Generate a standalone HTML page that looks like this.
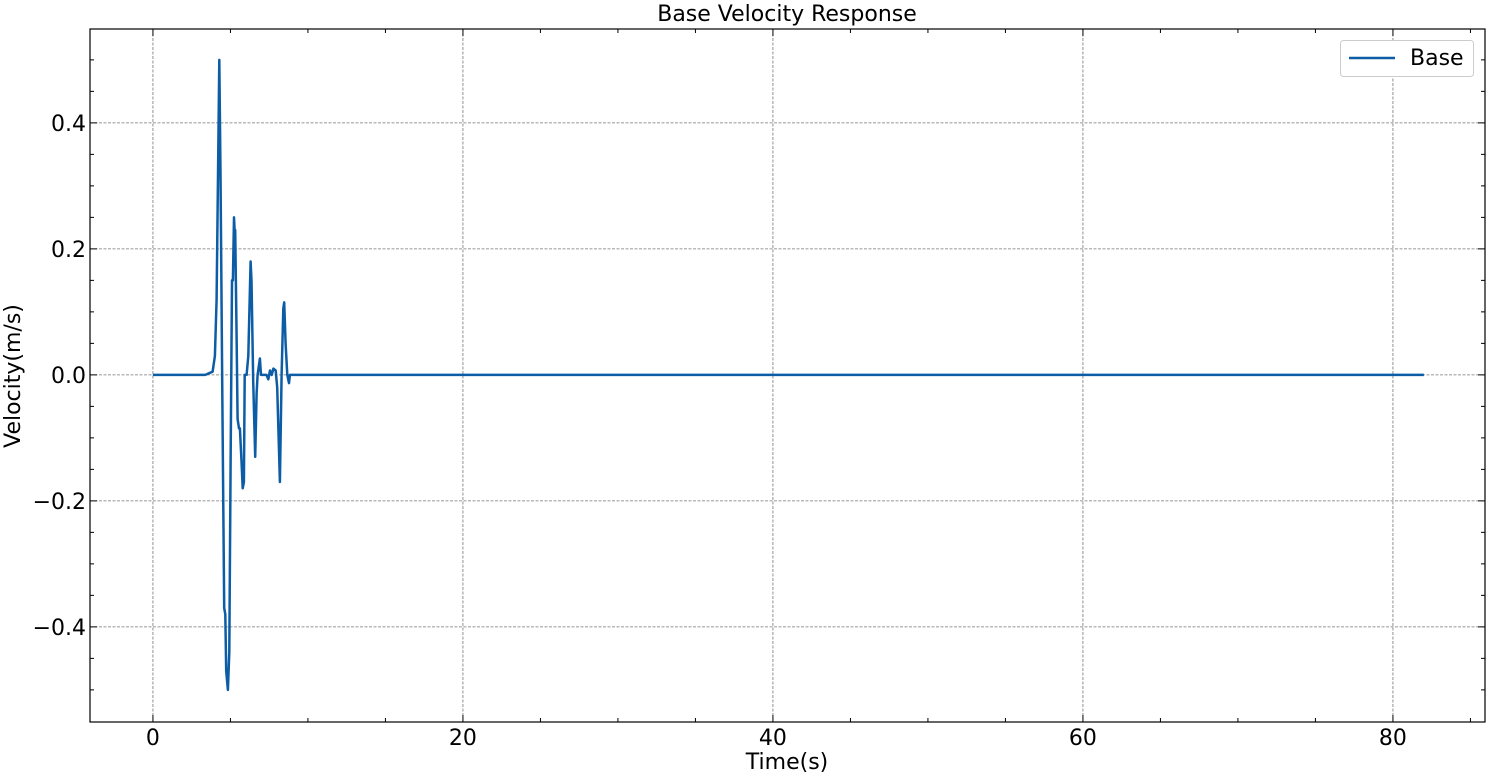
<!DOCTYPE html>
<html><head><meta charset="utf-8"><style>
body{margin:0;background:#fff;}
svg{display:block;font-family:"DejaVu Sans","Liberation Sans",sans-serif;}
</style></head><body>
<svg id="chart" width="1490" height="777"></svg>
<script>
const times=[0,2.39,3.37,3.85,4.0,4.11,4.28,4.36,4.47,4.54,4.6,4.67,4.73,4.84,4.93,5.01,5.1,5.16,5.23,5.27,5.31,5.4,5.46,5.55,5.61,5.72,5.79,5.87,5.92,6.04,6.15,6.3,6.36,6.47,6.6,6.69,6.75,6.9,6.97,7.33,7.44,7.55,7.66,7.77,7.92,8.02,8.19,8.3,8.41,8.47,8.56,8.67,8.78,8.84,9.49,82];
const velocity=[0,0,0,0.005,0.03,0.12,0.5,0.32,-0.01,-0.21,-0.37,-0.38,-0.47,-0.5,-0.44,-0.14,0.15,0.15,0.25,0.23,0.23,0.06,-0.07,-0.085,-0.085,-0.14,-0.18,-0.17,0,0,0.03,0.18,0.15,-0.01,-0.13,-0.03,0,0.026,0,0,-0.007,0.007,0,0.01,0.007,-0.02,-0.17,0,0.105,0.115,0.05,0,-0.013,0,0,0];
const xTicks=[0,20,40,60,80];
const yTicks=[-0.4,-0.2,0.0,0.2,0.4];
const yTickLabels=["\u22120.4","\u22120.2","0.0","0.2","0.4"];

const NS="http://www.w3.org/2000/svg";
const svg=document.getElementById('chart');
const L=90,R=1485,T=29,B=722;
const xMin=-4.06,xMax=85.94,yMin=-0.551,yMax=0.549;
const X=t=>L+(t-xMin)/(xMax-xMin)*(R-L);
const Y=v=>B-(v-yMin)/(yMax-yMin)*(B-T);
function mk(tag,attrs,parent){const e=document.createElementNS(NS,tag);for(const k in attrs)e.setAttribute(k,attrs[k]);(parent||svg).appendChild(e);return e;}

xTicks.forEach(t=>{const g=mk('line',{x1:X(t),x2:X(t),y1:T,y2:B,stroke:'#777','stroke-width':0.8,'stroke-dasharray':'3,1.5'});

});
yTicks.forEach(v=>{const g=mk('line',{x1:L,x2:R,y1:Y(v),y2:Y(v),stroke:'#777','stroke-width':0.8,'stroke-dasharray':'3,1.5'});

});

const pts=times.map((t,i)=>X(t).toFixed(1)+','+Y(velocity[i]).toFixed(1)).join(' ');
const line=mk('polyline',{points:pts,fill:'none',stroke:'#0c5da5','stroke-width':2.5,'stroke-linejoin':'round'});



const fr=mk('rect',{x:L,y:T,width:R-L,height:B-T,fill:'none',stroke:'#000','stroke-width':1.2});



for(let t=0;t<=85;t+=5){const major=t%20===0;const len=major?7:4;
mk('line',{x1:X(t),x2:X(t),y1:B,y2:B-len,stroke:'#000','stroke-width':1});
mk('line',{x1:X(t),x2:X(t),y1:T,y2:T+len,stroke:'#000','stroke-width':1});}
xTicks.forEach(t=>{const e=mk('text',{x:X(t),y:B+23,'text-anchor':'middle','font-size':22});e.textContent=String(t);

});
for(let k=-10;k<=10;k++){const v=k*0.05;const major=k%4===0;const len=major?7:4;
mk('line',{x1:L,x2:L+len,y1:Y(v),y2:Y(v),stroke:'#000','stroke-width':1});
mk('line',{x1:R,x2:R-len,y1:Y(v),y2:Y(v),stroke:'#000','stroke-width':1});}
yTicks.forEach((v,i)=>{const e=mk('text',{x:L-4,y:Y(v)+8,'text-anchor':'end','font-size':22});e.textContent=yTickLabels[i];

});
</script>
<svg style="position:absolute;left:0;top:0" width="1490" height="777">
<text x="787" y="21" text-anchor="middle" font-size="22" font-family="DejaVu Sans,sans-serif">Base Velocity Response</text>
<text x="787" y="769" text-anchor="middle" font-size="22" font-family="DejaVu Sans,sans-serif">Time(s)</text>
<text x="0" y="0" transform="translate(20,376) rotate(-90)" text-anchor="middle" font-size="22" font-family="DejaVu Sans,sans-serif">Velocity(m/s)</text>
<g>
<rect x="1340.5" y="40.5" width="133" height="36" rx="3" fill="#fff" stroke="#ccc" stroke-width="1"/>
<line x1="1349" x2="1395" y1="58" y2="58" stroke="#0c5da5" stroke-width="2.5"/>
<text x="1410" y="65" font-size="22" font-family="DejaVu Sans,sans-serif">Base</text>
</g>
</svg>
</body></html>
